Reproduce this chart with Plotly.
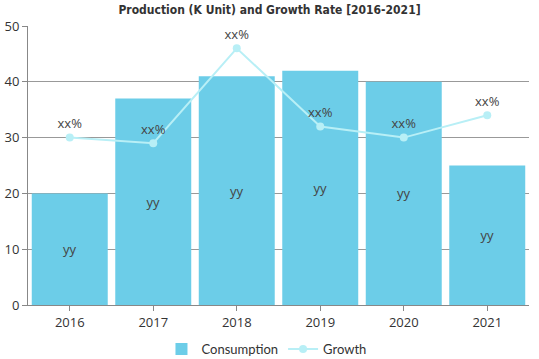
import plotly.graph_objects as go

years = ["2016", "2017", "2018", "2019", "2020", "2021"]
consumption = [20, 37, 41, 42, 40, 25]
growth = [30, 29, 46, 32, 30, 34]
bar_labels = ["yy"] * 6
growth_labels = ["xx%"] * 6

fig = go.Figure()
fig.add_trace(go.Bar(
    x=years, y=consumption, name="Consumption",
    marker=dict(color="#6ccde8", line=dict(width=0)),
    text=bar_labels, textposition="inside", insidetextanchor="middle",
    textfont=dict(color="#444444", size=13, family="Open Sans"),
))
fig.add_trace(go.Scatter(
    x=years, y=growth, name="Growth", mode="lines+markers+text",
    line=dict(color="#b8eff6", width=2),
    marker=dict(color="#b8eff6", size=8),
    text=growth_labels, textposition="top center",
    textfont=dict(color="#444444", size=13, family="Open Sans"),
))
fig.update_layout(
    width=539, height=359,
    margin=dict(l=28, r=10, t=26, b=54, autoexpand=False),
    paper_bgcolor="white", plot_bgcolor="white",
    bargap=0.09,
    title=dict(text="<b>Production (K Unit) and Growth Rate [2016-2021]</b>",
               x=0.5, xanchor="center", y=0.972, yanchor="middle",
               font=dict(family="DejaVu Sans Condensed", size=12, color="#333333")),
    legend=dict(orientation="h", x=0.476, xanchor="center", y=-0.158, yanchor="middle",
                itemwidth=30, tracegroupgap=0,
                font=dict(family="Lato", size=13, color="#333333")),
    showlegend=True,
)
fig.update_xaxes(showline=True, linecolor="#888888", ticks="outside", tickcolor="#888888",
                 ticklen=5, automargin=False,
                 tickfont=dict(size=13, color="#333333", family="Open Sans"),
                 showgrid=False)
fig.update_yaxes(range=[0, 50], dtick=10, showline=True, linecolor="#888888",
                 ticks="outside", tickcolor="#888888", ticklen=5, automargin=False,
                 showgrid=True, gridcolor="#999999", gridwidth=1, zeroline=False,
                 tickfont=dict(size=13, color="#333333", family="Open Sans"))
fig.write_html("out.html", config={"displayModeBar": False},
               post_script="document.body.style.margin='0';document.body.style.overflow='hidden';")
